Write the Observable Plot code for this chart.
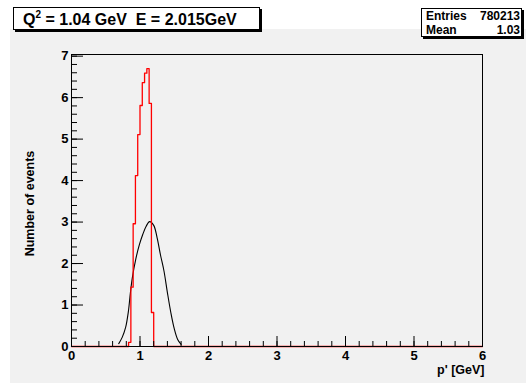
<!DOCTYPE html>
<html>
<head>
<meta charset="utf-8">
<script src="https://cdn.jsdelivr.net/npm/d3@7"></script>
<script src="https://cdn.jsdelivr.net/npm/@observablehq/plot@0.6"></script>
<style>
  html, body { margin: 0; padding: 0; background: #ffffff; }
  #canvas { position: relative; width: 526px; height: 383px; overflow: hidden;
            font-family: "Liberation Sans", Arial, Helvetica, sans-serif; }
  #pad { position: absolute; left: 10px; top: 29px; right: 0; bottom: 0; background: #f1f1f1; }
  #chart { position: absolute; left: 0; top: 0; }
  .pave { position: absolute; background: #ffffff; border: 1px solid #000;
          box-shadow: 2px 2px 0 #000; box-sizing: border-box; font-weight: bold; color: #000; }
  #title { left: 13px; top: 7px; width: 247px; height: 23px; font-size: 16px;
           line-height: 23px; padding-left: 9px; white-space: pre; }
  #title sup { font-size: 10px; line-height: 0; vertical-align: 7px; }
  #stats { left: 421px; top: 8px; width: 101px; height: 29px; font-size: 12px; }
  #stats .row { display: flex; justify-content: space-between; padding: 0 1px 0 4px; height: 13.5px; line-height: 14px; }
</style>
</head>
<body>
<div id="canvas">
  <div id="pad"></div>
  <div id="chart"></div>
  <div id="title" class="pave"></div>
  <div id="stats" class="pave"></div>
</div>
<script>
// Histogram of outgoing momentum p' (red): low edges of the filled bins and their contents
const binLow   = [0.8333, 0.8667, 0.9000, 0.9333, 0.9667, 1.0000, 1.0333, 1.0667, 1.1000, 1.1333, 1.1667];
const binCount = [0.10,   1.43,   2.96,   4.12,   5.11,   5.81,   6.36,   6.59,   6.70,   5.86,   0.82];
const lastBinHigh = 1.2;
const histRange = [0, 6];

// Smeared distribution (black curve)
const curveX = [0.69, 0.74, 0.79, 0.83, 0.86, 0.89, 0.94, 0.99, 1.04, 1.09, 1.14, 1.20, 1.25, 1.30, 1.35, 1.40, 1.45, 1.50, 1.55, 1.60];
const curveY = [0.07, 0.22, 0.46, 0.84, 1.30, 1.68, 2.12, 2.45, 2.70, 2.90, 3.01, 2.92, 2.62, 2.20, 1.82, 1.30, 0.82, 0.43, 0.17, 0.05];

// Axis ticks
const xMajor = [0, 1, 2, 3, 4, 5, 6];
const xMinor = d3.range(0, 6.0001, 0.2);
const yMajor = [0, 1, 2, 3, 4, 5, 6, 7];
const yMinor = d3.range(0, 7.0001, 0.2);

// Header texts
const titleParts = ["Q", "2", " = 1.04 GeV  E = 2.015GeV"];
const statsRows = [["Entries", "780213"], ["Mean", "1.03"]];
const xTitle = "p' [GeV]";
const yTitle = "Number of events";

// step outline of the histogram, running along zero outside the filled bins
const histPts = [{x: histRange[0], y: 0}];
binLow.forEach((x, i) => histPts.push({x, y: binCount[i]}));
histPts.push({x: lastBinHigh, y: 0}, {x: histRange[1], y: 0});

const curvePts = curveX.map((x, i) => ({x, y: curveY[i]}));

const font = {fontFamily: "Liberation Sans, Arial, sans-serif", fontWeight: "bold"};

const plot = Plot.plot({
  width: 526,
  height: 383,
  marginLeft: 71,
  marginRight: 44,
  marginTop: 54,
  marginBottom: 37,
  style: {background: "transparent", fontFamily: "Liberation Sans, Arial, sans-serif", color: "#000"},
  x: {domain: histRange},
  y: {domain: [0, 7.04]},
  marks: [
    // data
    Plot.line(curvePts, {x: "x", y: "y", curve: "catmull-rom", stroke: "#000", strokeWidth: 1.1}),
    Plot.line(histPts, {x: "x", y: "y", curve: "step-after", stroke: "#ff0000", strokeWidth: 1.3}),
    // frame and inward ticks
    Plot.frame({stroke: "#000", strokeWidth: 1}),
    Plot.axisX(xMinor, {anchor: "bottom", tickSize: -5, tickFormat: () => "", label: null}),
    Plot.axisX(xMajor, {anchor: "bottom", tickSize: -10, tickFormat: () => "", label: null}),
    Plot.axisY(yMinor, {anchor: "left", tickSize: -6, tickFormat: () => "", label: null}),
    Plot.axisY(yMajor, {anchor: "left", tickSize: -12, tickFormat: () => "", label: null}),
    // tick labels
    Plot.axisX(xMajor, {anchor: "bottom", tickSize: 0, tickPadding: 4, fontSize: 13, ...font, label: null}),
    Plot.axisY(yMajor, {anchor: "left", tickSize: 0, tickPadding: 3, fontSize: 13, ...font, label: null}),
    // axis titles
    Plot.text([xTitle], {frameAnchor: "bottom-right", textAnchor: "end", dy: 27, dx: 2, fontSize: 12.5, ...font}),
    Plot.text([yTitle], {frameAnchor: "left", textAnchor: "middle", rotate: -90, dx: -42, dy: 3, fontSize: 12.5, ...font})
  ]
});
document.getElementById("chart").appendChild(plot);

// title pave
const title = document.getElementById("title");
title.append(titleParts[0]);
const sup = document.createElement("sup");
sup.textContent = titleParts[1];
title.append(sup, titleParts[2]);

// statistics pave
const stats = document.getElementById("stats");
for (const [k, v] of statsRows) {
  const row = document.createElement("div");
  row.className = "row";
  const a = document.createElement("span"); a.textContent = k;
  const b = document.createElement("span"); b.textContent = v;
  row.append(a, b);
  stats.append(row);
}
</script>
</body>
</html>
